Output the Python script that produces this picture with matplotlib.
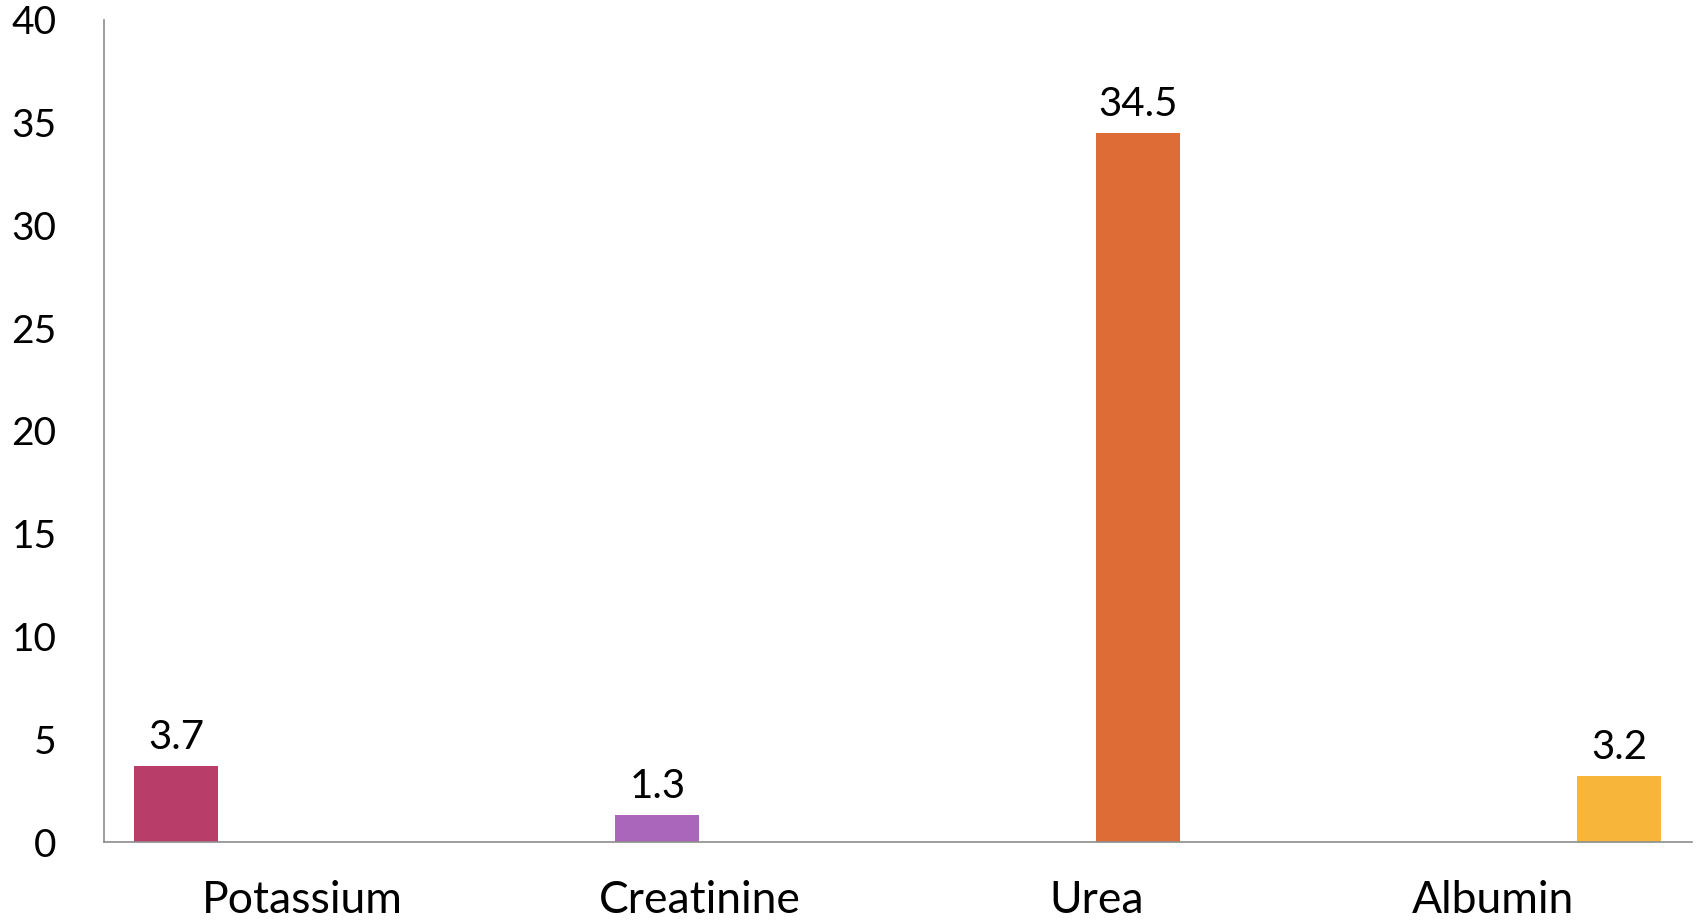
import matplotlib
matplotlib.use('Agg')
import matplotlib.pyplot as plt
import numpy as np

plt.rcParams['font.family'] = ['Lato', 'DejaVu Sans']

# Data
categories = ["Potassium", "Creatinine", "Urea", "Albumin"]
values = [3.7, 1.3, 34.5, 3.2]
value_labels = ["3.7", "1.3", "34.5", "3.2"]
colors = ["#B83D68", "#AA66BB", "#DE6C37", "#F7B53A"]
yticks = [0, 5, 10, 15, 20, 25, 30, 35, 40]

fig = plt.figure(figsize=(16.96, 9.24), dpi=100)
ax = fig.add_axes([0.0613, 0.0887, 0.9363, 0.8897])

# one series per measurement, laid out as a clustered column chart
n = len(categories)
bar_w = 0.2116
gap = (1 - n * bar_w) / 2
x = np.arange(n)
for i, (val, lab, col) in enumerate(zip(values, value_labels, colors)):
    xpos = x[i] - 0.5 + gap + (i + 0.5) * bar_w
    ax.bar(xpos, val, width=bar_w, color=col, zorder=2)
    ax.text(xpos, val + 0.5, lab, ha='center', va='bottom', fontsize=29)

ax.set_xlim(-0.5, n - 0.5)
ax.set_ylim(0, 40)
ax.set_xticks(x)
ax.set_xticklabels(categories, fontsize=32)
ax.set_yticks(yticks)
ax.set_yticklabels([str(t) for t in yticks], fontsize=28)
ax.tick_params(axis='both', length=0)
ax.tick_params(axis='y', pad=34)
ax.tick_params(axis='x', pad=27)

for s in ['top', 'right']:
    ax.spines[s].set_visible(False)
for s in ['left', 'bottom']:
    ax.spines[s].set_color('#8C8C8C')
    ax.spines[s].set_linewidth(1.2)

fig.savefig('out.png', dpi=100)
